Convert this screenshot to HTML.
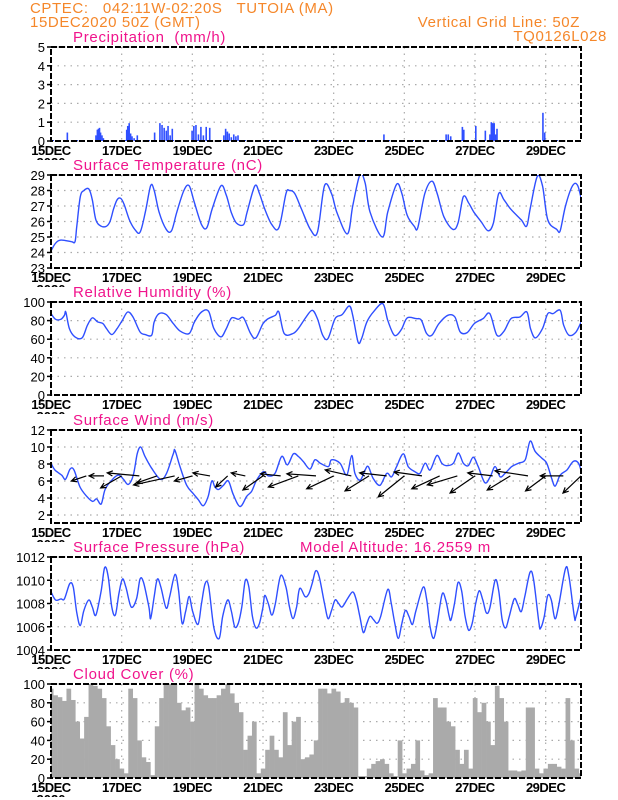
<!DOCTYPE html>
<html><head><meta charset="utf-8"><style>
html,body{margin:0;padding:0;background:#fff;}
svg{display:block;font-family:"Liberation Sans",sans-serif;}
</style></head><body>
<svg id="chart" width="618" height="800" viewBox="0 0 618 800" xmlns="http://www.w3.org/2000/svg" xml:space="preserve">
<text x="30" y="13" fill="#f5872a" font-size="15" letter-spacing="0.6" style="white-space:pre">CPTEC:   042:11W-02:20S   TUTOIA (MA)</text>
<text x="30" y="27" fill="#f5872a" font-size="15" letter-spacing="0.6">15DEC2020 50Z (GMT)</text>
<text x="580" y="27" fill="#f5872a" font-size="15" letter-spacing="0.6" text-anchor="end">Vertical Grid Line: 50Z</text>
<text x="607" y="41" fill="#f5872a" font-size="15" letter-spacing="0.6" text-anchor="end">TQ0126L028</text>
<g id="panels"></g>
</svg>
<script>
// ---------- data ----------
const dayLabels = ["15DEC","17DEC","19DEC","21DEC","23DEC","25DEC","27DEC","29DEC"];
const precipDays = [0.44,1.25,1.29,1.32,1.35,1.38,1.42,1.46,2.12,2.15,2.19,2.23,2.27,2.33,2.42,2.91,3.06,3.12,3.18,3.24,3.29,3.35,3.41,3.97,4.02,4.08,4.15,4.22,4.29,4.37,4.47,4.87,4.92,4.97,5.02,5.08,5.15,5.21,5.27,9.4,11.16,11.22,11.29,11.62,11.66,12.0,12.27,12.4,12.44,12.48,12.52,12.56,12.6,13.9,13.95];
const precipVals = [0.45,0.3,0.6,0.65,0.7,0.45,0.3,0.15,0.6,0.8,0.95,0.4,0.25,0.15,0.3,0.45,0.95,0.85,0.7,0.55,0.8,0.3,0.65,0.55,0.8,0.85,0.35,0.75,0.3,0.75,0.7,0.3,0.65,0.5,0.4,0.2,0.35,0.25,0.3,0.35,0.35,0.35,0.25,0.75,0.6,0.8,0.55,0.35,1.0,0.95,0.95,0.35,0.65,1.5,0.45];
const tempDays = [0,.13,.28,.58,.68,.73,.83,.93,1.07,1.17,1.27,1.42,1.57,1.67,1.77,1.87,1.97,2.07,2.22,2.37,2.52,2.67,2.82,2.92,3.06,3.26,3.41,3.56,3.76,3.91,4.06,4.26,4.41,4.56,4.81,4.96,5.10,5.25,5.45,5.55,5.77,5.90,6.05,6.25,6.45,6.65,6.75,6.90,7.09,7.34,7.54,7.74,7.94,8.09,8.39,8.54,8.74,8.89,9.03,9.38,9.53,9.78,9.93,10.08,10.28,10.38,10.58,10.78,10.93,11.12,11.37,11.52,11.67,11.82,11.97,12.17,12.37,12.52,12.67,12.82,13.01,13.31,13.46,13.56,13.76,13.91,14.06,14.31,14.41,14.56,14.76,14.91,15.05];
const tempVals = [24.1,24.6,24.8,24.7,24.7,25.7,27.6,28.0,28.1,27.4,26.1,25.7,25.7,26.0,26.8,27.4,27.5,27.1,26.1,25.5,25.3,26.6,28.3,28.0,26.6,25.5,25.4,26.6,28.0,28.3,27.2,25.8,25.6,26.8,28.3,27.7,26.6,25.9,25.8,26.6,28.3,27.8,26.8,25.8,25.6,27.8,28.0,27.8,26.8,25.5,25.3,28.3,27.8,26.6,25.2,27.0,29.0,28.5,26.6,25.0,26.6,28.4,27.8,26.4,25.7,25.6,27.8,28.6,27.8,26.3,25.5,25.9,27.6,27.2,26.6,26.0,25.4,25.9,27.8,27.4,26.8,26.1,25.7,26.8,28.9,28.3,26.1,25.5,25.4,27.0,28.3,28.3,27.0];
const rhDays = [0,.13,.28,.38,.42,.52,.68,.88,1.03,1.17,1.32,1.47,1.57,1.72,1.87,2.02,2.17,2.32,2.52,2.67,2.85,2.92,3.06,3.26,3.46,3.66,3.91,4.06,4.26,4.46,4.61,4.81,4.96,5.11,5.30,5.45,5.65,5.80,6.0,6.15,6.35,6.45,6.60,6.85,7.0,7.19,7.39,7.54,7.69,7.84,8.04,8.24,8.44,8.54,8.69,8.79,8.94,9.14,9.39,9.53,9.68,9.78,9.93,10.08,10.33,10.48,10.63,10.78,10.98,11.23,11.43,11.58,11.78,11.98,12.23,12.42,12.62,12.82,13.02,13.27,13.47,13.57,13.71,13.91,14.06,14.21,14.41,14.51,14.66,14.86,15.05];
const rhVals = [87.5,81.4,81.4,85.7,89.3,71.4,62.5,61.4,75,82.9,78.6,76.8,71.4,65,71.4,80.4,89.3,83.9,67.9,65,64.3,78.6,87.5,86.4,76.8,68.6,66.1,78.6,89.3,90,71.4,62.5,71.4,82.9,81.4,82.9,66.1,61.4,76.8,82.1,85.7,89.3,66.1,66.1,71.4,82.1,91.1,82.1,64.3,60.7,82.1,86.4,95.7,85.7,57.1,60.7,78.6,90,98.2,80.4,66.1,64.3,71.4,82.9,82.1,80.4,66.1,64.3,76.8,85.7,83.9,67.9,67.1,76.8,82.1,87.5,64.3,68.6,82.1,83.9,89.3,71.4,61.4,71.4,87.5,87.5,91.1,75,64.3,67.9,82.1];
const windDays = [0,.11,.30,.41,.54,.65,.82,1.01,1.18,1.29,1.42,1.53,1.72,1.91,2.05,2.19,2.33,2.44,2.54,2.66,2.85,3.10,3.27,3.46,3.51,3.65,3.84,4.03,4.17,4.31,4.45,4.55,4.64,4.74,4.88,5.02,5.16,5.35,5.54,5.68,5.82,6.01,6.15,6.34,6.53,6.69,6.86,7.00,7.14,7.33,7.47,7.62,7.85,7.94,8.18,8.37,8.51,8.60,8.75,8.89,8.98,9.12,9.31,9.50,9.64,9.78,9.97,10.11,10.30,10.44,10.59,10.73,10.92,11.06,11.20,11.39,11.53,11.67,11.81,11.95,12.09,12.28,12.43,12.57,12.71,12.85,13.04,13.23,13.42,13.56,13.70,13.89,14.03,14.17,14.27,14.41,14.60,14.78,14.93,15.02];
const windVals = [8.1,7.3,6.7,6.2,7.4,7.3,5.3,4.2,3.6,3.9,3.3,5.0,6.1,6.7,6.2,5.6,6.7,9.2,10.0,8.9,7.5,6.2,6.9,9.2,9.6,7.7,5.5,4.5,3.8,3.1,4.2,6.0,5.3,5.0,5.5,6.0,4.4,3.0,4.2,4.8,6.1,7.1,6.6,6.9,8.9,7.9,9.2,8.9,8.3,7.4,8.5,8.1,7.7,8.5,8.1,6.7,9.0,6.9,6.1,7.3,7.7,6.3,5.5,6.9,6.5,7.7,9.2,7.7,7.1,6.9,8.1,7.3,9.0,8.1,7.8,8.1,9.3,8.1,7.8,8.8,7.7,5.8,6.5,7.7,6.5,6.9,7.7,8.1,8.5,10.7,9.5,8.7,8.1,6.3,5.4,6.7,7.3,8.3,8.1,6.9];
const arrowDays = [1.0,1.5,2.0,2.5,3.0,3.5,4.0,4.5,5.0,5.5,6.0,6.5,7.0,7.5,8.0,8.5,9.0,9.5,10.0,10.5,11.0,11.5,12.0,12.5,13.0,13.5,14.0,14.5,15.0];
const arrowU = [-5,-5,-7,-10.7,-6.7,-13.7,-6,-5.7,-4,-4.7,-6.7,-6.7,-10,-9.7,-9,-8.7,-8,-9,-8.7,-9.3,-9.3,-10,-8.3,-8.3,-7.7,-11,-6.7,-7.7,-6];
const arrowV = [-1.7,0,-4,1,-2.3,-3,-1.7,1,-3.7,1,-4.7,0.7,-3.7,0.7,-4.3,2,-5,1,-7,1.3,-4.3,-3,-5.7,1,-4.7,1.7,-5,0,-5.7];
const presDays = [0,.13,.28,.38,.53,.63,.73,.83,.93,1.07,1.17,1.27,1.42,1.52,1.62,1.72,1.82,1.92,2.02,2.12,2.27,2.42,2.52,2.62,2.77,2.82,2.92,3.01,3.11,3.26,3.36,3.51,3.61,3.71,3.81,3.91,4.01,4.16,4.26,4.36,4.46,4.61,4.76,4.86,5.0,5.1,5.2,5.3,5.4,5.5,5.6,5.7,5.8,5.9,6.0,6.05,6.15,6.25,6.35,6.5,6.65,6.75,6.85,6.95,7.04,7.19,7.29,7.39,7.49,7.59,7.74,7.84,7.94,8.04,8.14,8.24,8.39,8.54,8.64,8.74,8.84,8.94,9.03,9.13,9.23,9.33,9.53,9.63,9.73,9.83,9.93,10.03,10.13,10.23,10.33,10.53,10.63,10.73,10.83,10.93,11.07,11.17,11.27,11.32,11.42,11.52,11.62,11.72,11.82,11.92,12.02,12.12,12.22,12.32,12.42,12.57,12.67,12.77,12.87,12.97,13.11,13.21,13.31,13.41,13.56,13.66,13.81,13.86,13.96,14.06,14.16,14.26,14.36,14.56,14.66,14.81,14.86,15.05];
const presVals = [1009.0,1008.3,1008.4,1008.4,1009.7,1009.4,1007.2,1006.1,1007.4,1008.3,1007.7,1007.0,1009.1,1011.1,1010.3,1007.7,1007.0,1008.8,1010.1,1009.4,1007.7,1008.4,1010.1,1009.8,1007.7,1006.7,1008.6,1010.1,1009.4,1007.6,1008.6,1010.5,1009.1,1006.3,1007.3,1008.6,1007.3,1006.2,1008.0,1009.7,1009.5,1005.9,1005.0,1006.9,1008.3,1007.4,1006.0,1006.3,1007.7,1010.0,1009.4,1006.9,1005.9,1006.3,1007.7,1008.7,1008.0,1007.0,1008.0,1010.4,1009.4,1007.7,1006.7,1007.7,1009.3,1008.6,1008.8,1009.7,1010.8,1010.3,1008.0,1006.7,1007.4,1008.3,1008.0,1007.7,1008.4,1009.0,1008.3,1006.9,1005.5,1006.3,1006.9,1006.6,1006.3,1006.9,1009.2,1008.0,1006.3,1005.0,1006.3,1007.4,1006.9,1006.2,1007.4,1009.4,1008.4,1006.0,1005.0,1006.3,1008.8,1008.3,1006.9,1006.6,1008.0,1009.8,1009.1,1006.9,1005.7,1006.3,1008.0,1009.1,1008.3,1007.2,1007.6,1010.0,1009.1,1006.6,1005.9,1006.9,1008.4,1007.9,1007.3,1008.6,1010.7,1010.0,1006.3,1005.9,1006.9,1008.7,1008.3,1006.7,1007.7,1011.0,1010.3,1006.9,1006.9,1009.2];
const cloudVals = [95,88,86,82,95,83,60,42,65,100,98,95,85,55,35,20,10,5,95,85,40,22,17,3,55,85,100,100,100,80,72,75,60,100,95,88,85,85,88,95,100,90,80,70,30,45,60,5,10,30,45,30,22,70,35,60,65,20,22,25,40,95,95,90,95,92,80,85,80,75,2,2,10,15,18,20,15,5,2,40,5,10,15,40,8,3,5,85,75,75,60,55,30,15,30,10,85,70,80,60,35,98,85,60,8,8,7,8,75,75,10,5,10,15,15,12,10,85,40,10,5];

// ---------- layout ----------
const X0 = 51, X1 = 581, DAYS = 15;
const NS = "http://www.w3.org/2000/svg";
const root = document.getElementById('panels');
const xs = d => X0 + (X1 - X0) * d / DAYS;
function mk(tag, attrs, parent) {
  const e = document.createElementNS(NS, tag);
  for (const k in attrs) e.setAttribute(k, attrs[k]);
  (parent || root).appendChild(e);
  return e;
}
let clipN = 0;
function panel(name, title, top, bot, ymin, ymax, ticks, tickFmt) {
  const g = mk('g', {});
  
  
  const ys = v => bot - (bot - top) * (v - ymin) / (ymax - ymin);
  const t = mk('text', {x: 73, y: top - 5, fill: '#f0148c', 'font-size': 15, 'letter-spacing': 0.7, style: 'white-space:pre'}, g);
  t.textContent = title;
  
  
  for (const v of ticks) {
    const l = mk('line', {x1: X0, x2: X1, y1: ys(v), y2: ys(v), stroke: '#aaa', 'stroke-width': 1.2, 'stroke-dasharray': '1.5,5'}, g);
    
    
    const tl = mk('text', {x: 45, y: ys(v) + 5, 'font-size': 13, 'text-anchor': 'end', fill: '#000'}, g);
    tl.textContent = tickFmt(v);
    
    
    mk('line', {x1: X0 - 4, x2: X0, y1: ys(v), y2: ys(v), stroke: '#000', 'stroke-width': 1.5}, g);
  }
  for (let i = 0; i < dayLabels.length; i++) {
    const x = xs(i * 2);
    if (i > 0) {
      const l = mk('line', {x1: x, x2: x, y1: top, y2: bot, stroke: '#aaa', 'stroke-width': 1.2, 'stroke-dasharray': '1.5,5'}, g);
      
      
    }
    const xl = mk('text', {x: x, y: bot + 14, 'font-size': 13, 'font-weight': 'bold', 'text-anchor': 'middle', fill: '#000', 'letter-spacing': '-0.5'}, g);
    xl.textContent = dayLabels[i];
    
    
  }
  const cid = 'clip' + (clipN++);
  const cp = mk('clipPath', {id: cid}, g);
  mk('rect', {x: X0, y: top, width: X1 - X0, height: bot - top}, cp);
  const yr = mk('clipPath', {id: cid + 'y'}, g);
  mk('rect', {x: 30, y: bot + 16, width: 40, height: 3}, yr);
  const yrText = mk('text', {x: X0, y: bot + 26, 'font-size': 13, 'font-weight': 'bold', 'text-anchor': 'middle', 'clip-path': 'url(#' + cid + 'y)'}, g);
  yrText.textContent = '2020';
  
  
  const plot = mk('g', {'clip-path': 'url(#' + cid + ')'}, g);
  
  
  return {g, plot, ys, top, bot,
    frame() {
      const f = mk('rect', {x: X0, y: top, width: X1 - X0, height: bot - top, fill: 'none', stroke: '#000', 'stroke-width': 2, 'stroke-dasharray': '6,2'}, g);
      
      
    }};
}
function line(p, days, vals, name) {
  const P = days.map((t, i) => [xs(t), p.ys(vals[i])]);
  let d = 'M' + P[0][0].toFixed(1) + ',' + P[0][1].toFixed(1);
  for (let i = 0; i < P.length - 1; i++) {
    const a = P[Math.max(0, i - 1)], b = P[i], c = P[i + 1], e = P[Math.min(P.length - 1, i + 2)];
    const c1x = b[0] + (c[0] - a[0]) / 6, c1y = b[1] + (c[1] - a[1]) / 6;
    const c2x = c[0] - (e[0] - b[0]) / 6, c2y = c[1] - (e[1] - b[1]) / 6;
    d += 'C' + c1x.toFixed(1) + ',' + c1y.toFixed(1) + ' ' + c2x.toFixed(1) + ',' + c2y.toFixed(1) + ' ' + c[0].toFixed(1) + ',' + c[1].toFixed(1);
  }
  const path = mk('path', {d: d, fill: 'none', stroke: '#2f4fff', 'stroke-width': 1.4, 'stroke-linejoin': 'round'}, p.plot);
  
  
}
const rng = (a, b, s) => { const r = []; for (let v = a; v <= b + 1e-9; v += s) r.push(v); return r; };

// precipitation
const pP = panel('precipitation', 'Precipitation  (mm/h)', 47, 141, 0, 5, rng(0, 5, 1), v => String(v));
mk('line', {x1: X0, x2: X1, y1: 140.5, y2: 140.5, stroke: '#2f4fff', 'stroke-width': 1, 'stroke-dasharray': '3,9'}, pP.plot);
precipDays.forEach((d, i) => {
  const r = mk('rect', {x: xs(d), y: pP.ys(precipVals[i]), width: 1.6, height: pP.ys(0) - pP.ys(precipVals[i]), fill: '#2f4fff'}, pP.plot);
  
  
});
pP.frame();

// temperature
const pT = panel('temperature', 'Surface Temperature (nC)', 175, 268, 23, 29, rng(23, 29, 1), v => String(v));
line(pT, tempDays, tempVals, 'temperature-line');
pT.frame();

// humidity
const pH = panel('humidity', 'Relative Humidity (%)', 302, 395, 0, 100, rng(0, 100, 20), v => String(v));
line(pH, rhDays, rhVals, 'humidity-line');
pH.frame();

// wind
const pW = panel('wind', 'Surface Wind (m/s)', 430, 523, 1.06, 12, rng(2, 12, 2), v => String(v));
line(pW, windDays, windVals, 'wind-speed-line');
arrowDays.forEach((d, i) => {
  const x1 = xs(d), y1 = pW.ys(6.6);
  const x2 = x1 + arrowU[i] * 3, y2 = y1 - arrowV[i] * 3;
  const a = Math.atan2(y2 - y1, x2 - x1);
  const h1x = x2 - 6 * Math.cos(a - 0.45), h1y = y2 - 6 * Math.sin(a - 0.45);
  const h2x = x2 - 6 * Math.cos(a + 0.45), h2y = y2 - 6 * Math.sin(a + 0.45);
  const ar = mk('path', {d: `M${x1},${y1}L${x2},${y2}M${h1x},${h1y}L${x2},${y2}L${h2x},${h2y}`, stroke: '#000', 'stroke-width': 1.2, fill: 'none'}, pW.plot);
  
  
});
pW.frame();

// pressure
const pS = panel('pressure', 'Surface Pressure (hPa)', 557, 650, 1004, 1012, rng(1004, 1012, 2), v => String(v));
const alt = mk('text', {x: 300, y: 552, fill: '#f0148c', 'font-size': 15, 'letter-spacing': 0.7}, pS.g);
alt.textContent = 'Model Altitude: 16.2559 m';


line(pS, presDays, presVals, 'pressure-line');
pS.frame();

// cloud cover
const pC = panel('cloud', 'Cloud Cover (%)', 684, 778, 0, 100, rng(0, 100, 20), v => String(v));
const cw = (X1 - X0) / DAYS / 8;
cloudVals.forEach((v, i) => {
  const r = mk('rect', {x: xs(i / 8) - cw / 2, y: pC.ys(v), width: cw + 0.3, height: pC.ys(0) - pC.ys(v), fill: '#aaaaaa'}, pC.plot);
  
  
});
pC.frame();
</script>
</body></html>
